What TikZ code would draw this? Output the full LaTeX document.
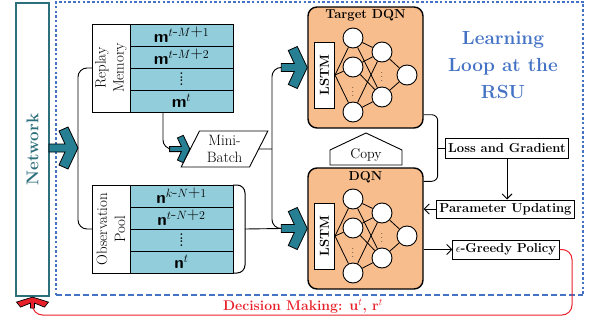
\documentclass[tikz,border=0pt]{standalone}
\usepackage{graphicx}
\usepackage{amsmath}
\usetikzlibrary{arrows.meta,shapes.geometric,positioning,calc}

\definecolor{netteal}{HTML}{2E6F7C}
\definecolor{arrteal}{HTML}{267F93}
\definecolor{cellblue}{HTML}{92CDDC}
\definecolor{dqnorange}{HTML}{F8BD8C}
\definecolor{loopblue}{HTML}{4472C4}
\definecolor{decred}{HTML}{E8202A}

\newcommand{\celldots}{{\fontsize{12}{12}\selectfont\rotatebox{90}{\textbf{....}}}}

\tikzset{
  loopline/.style={draw=loopblue, line width=2pt},
  netbox/.style={draw=netteal, line width=2.2pt, minimum width=33pt, minimum height=293pt, inner sep=0pt, text=netteal, font=\bfseries\fontsize{17}{17}\selectfont},
  memlabel/.style={draw, fill=white, line width=1pt, outer sep=0pt, minimum width=38pt, minimum height=88pt},
  labeltext/.style={align=center, font=\fontsize{15}{18}\selectfont},
  cell/.style={draw, fill=cellblue, line width=1pt, outer sep=0pt, minimum width=103pt, minimum height=22pt, inner sep=0pt, font=\fontsize{17}{17}\selectfont},
  minibatch/.style={trapezium, trapezium left angle=65, trapezium right angle=115, trapezium stretches=true, draw, fill=white, line width=0.9pt, minimum width=87pt, minimum height=36pt, inner sep=1pt, align=center, font=\fontsize{15}{17}\selectfont},
  qbox/.style={draw, fill=dqnorange, line width=1.4pt, rounded corners=9pt, minimum width=115pt, minimum height=121pt},
  qtitle/.style={font=\bfseries\fontsize{13}{13}\selectfont},
  lstmbox/.style={draw, fill=white, line width=1pt, minimum width=20pt, minimum height=66pt, inner sep=0pt, font=\bfseries\fontsize{13}{13}\selectfont},
  neuron/.style={circle, draw, fill=white, line width=0.9pt, minimum size=20pt, inner sep=0pt},
  netline/.style={line width=0.8pt},
  vdot/.style={font=\fontsize{9}{9}\selectfont, inner sep=0pt},
  stepbox/.style={draw, fill=white, line width=1pt, minimum height=19pt, inner xsep=3pt, inner ysep=0pt, font=\bfseries\fontsize{13}{13}\selectfont},
  link/.style={line width=0.9pt, rounded corners=9pt},
  arr/.style={line width=0.9pt, -{Straight Barb[length=5pt,width=10pt]}},
  redline/.style={draw=decred, line width=1pt, rounded corners=10pt},
  pics/fatarrow/.style={code={
    \draw[fill=arrteal, line width=0.8pt] (0,0) -- (-10,-21) -- (-19,-17) -- (-13,-4) -- (-#1,-4)
      -- (-#1,4) -- (-13,4) -- (-19,17) -- (-10,21) -- cycle;
  }},
  pics/redup/.style={code={
    \draw[fill=decred, line width=0.7pt] (0,0) -- (-16,5) -- (-12,10) -- (-2,6) -- (-2,11) -- (2,11)
      -- (2,6) -- (12,10) -- (16,5) -- cycle;
  }}
}

\begin{document}
\begin{tikzpicture}[x=1pt,y=-1pt]
\useasboundingbox (0,0) rectangle (592,324);

% learning loop frame
\draw[loopline, dash pattern=on 2.5pt off 2.2pt] (56,295) -- (56,2) -- (583,2) -- (583,295);
\draw[loopline, dash pattern=on 6pt off 3pt] (56,295) -- (583,295);
\node[text=loopblue, align=center, font=\bfseries\fontsize{19}{27}\selectfont] (looptxt) at (503,65) {Learning\\Loop at the\\RSU};

\node[netbox] (network) at (32.5,149.5) {\rotatebox{90}{Network}};

% replay memory
\node[memlabel] (rmlab) at (111,68) {};
\node[rotate=90, labeltext] at (rmlab) {Replay\\Memory};
\node[cell, anchor=north west] (m1) at (rmlab.north east) {\textsf{\textbf{m}}$^{t\mbox{-}M\mbox{+}1}$};
\node[cell, below=0pt of m1] (m2) {\textsf{\textbf{m}}$^{t\mbox{-}M\mbox{+}2}$};
\node[cell, below=0pt of m2] (m3) {\celldots};
\node[cell, below=0pt of m3] (m4) {\textsf{\textbf{m}}$^{t}$};

% observation pool
\node[memlabel] (oplab) at (111,229) {};
\node[rotate=90, labeltext] at (oplab) {Observation\\Pool};
\node[cell, anchor=north west] (n1) at (oplab.north east) {\textsf{\textbf{n}}$^{k\mbox{-}N\mbox{+}1}$};
\node[cell, below=0pt of n1] (n2) {\textsf{\textbf{n}}$^{t\mbox{-}N\mbox{+}2}$};
\node[cell, below=0pt of n2] (n3) {\celldots};
\node[cell, below=0pt of n3] (n4) {\textsf{\textbf{n}}$^{t}$};
\draw[line width=1pt] (n1.north east) -- ++(4,0) arc[start angle=90, end angle=0, radius=8pt]
  -- ++(0,72) arc[start angle=0, end angle=-90, radius=8pt] -- (n4.south east);
\coordinate (opout) at ($(n2.south east)+(12,0)$);

\node[minibatch] (mb) at (224.5,149) {Mini-\\Batch};

% target DQN and DQN
\node[qbox] (tgt) at (365.5,67.5) {};
\node[qtitle] at ($(tgt.north)+(0,9)$) {Target DQN};
\node[qbox] (dqn) at (365.5,228.5) {};
\node[qtitle] at ($(dqn.north)+(0,10)$) {DQN};
\foreach \b in {tgt,dqn}{
  \node[lstmbox] (\b-lstm) at ($(\b)+(-41,7.5)$) {\rotatebox{90}{LSTM}};
  \node[neuron] (\b-a1) at ($(\b)+(-12.5,-29.5)$) {};
  \node[neuron] (\b-a2) at ($(\b)+(-12.5,-0.5)$) {};
  \node[neuron] (\b-a3) at ($(\b)+(-12.5,44.5)$) {};
  \node[neuron] (\b-b1) at ($(\b)+(16.5,-15.5)$) {};
  \node[neuron] (\b-b2) at ($(\b)+(16.5,29.5)$) {};
  \node[neuron] (\b-c1) at ($(\b)+(41.5,7.5)$) {};
  \node[vdot] at ($(\b)+(-12.5,22)$) {$\vdots$};
  \node[vdot] at ($(\b)+(16.5,7)$) {$\vdots$};
  \foreach \i in {1,2,3}{
    \draw[netline] (\b-lstm.east) -- (\b-a\i);
    \foreach \j in {1,2} \draw[netline] (\b-a\i) -- (\b-b\j);
  }
  \foreach \j in {1,2} \draw[netline] (\b-b\j) -- (\b-c1);
}

% copy
\node[font=\fontsize{14}{14}\selectfont, inner sep=1pt] (copy) at (366,155) {Copy};
\draw[line width=0.9pt] ($(copy)+(-36,10)$) -- ($(copy)+(-36,-5)$) -- ($(copy)+(0,-22)$)
  -- ($(copy)+(36,-5)$) -- ($(copy)+(36,10)$) -- cycle;

% right hand boxes
\node[stepbox, minimum height=20pt] (loss) at (507,148) {Loss and Gradient};
\node[stepbox, minimum height=18pt] (param) at (505.5,209) {Parameter Updating};
\node[stepbox] (greedy) at (506,249.5) {$\epsilon$-Greedy Policy};

% connectors
\coordinate (split) at (78,148);
\coordinate (tgtin) at ($(tgt.west)+(-26,0)$);
\coordinate (dqnin) at ($(dqn.west)+(-26,0)$);
\coordinate (junc) at (272,149);
\coordinate (mbin) at ($(mb.west)+(-20,0)$);
\coordinate (lossjoin) at ($(loss.west)+(-7,0)$);
\draw[link] (rmlab.west) -| (split) |- (oplab.west);
\draw[link] ($(m4.south west)+(33,0)$) |- (mbin);
\draw[link] (mb.east) -- (junc);
\draw[link] (tgtin) -| (junc) |- (dqnin);
\draw[link] (opout) -- (dqnin);
\draw[link, rounded corners=6pt] ($(tgt.south east)+(0,-14)$) -| (lossjoin) |- ($(dqn.north east)+(0,14)$);
\draw[link] (lossjoin) -- (loss.west);
\draw[arr] (loss.south) -- (loss.south |- param.north);
\draw[arr] (param.west) -- (param.west -| dqn.east);
\draw[arr] (greedy.west -| dqn.east) -- (greedy.west);

\pic at (split) {fatarrow=29};
\pic at (tgt.west) {fatarrow=26};
\pic at (dqn.west) {fatarrow=26};
\pic[scale=0.65] at (mb.west) {fatarrow=31};

% decision feedback
\coordinate (decturn) at (572,315);
\draw[redline] (greedy.east) -| (decturn) -| ($(network.south)+(0,11)$);
\pic at (network.south) {redup};
\node[text=decred, font=\bfseries\fontsize{14}{14}\selectfont] (decision) at (303,306) {Decision Making: $\mathbf{u}^{t}$, $\mathbf{r}^{t}$};
\end{tikzpicture}
\end{document}
